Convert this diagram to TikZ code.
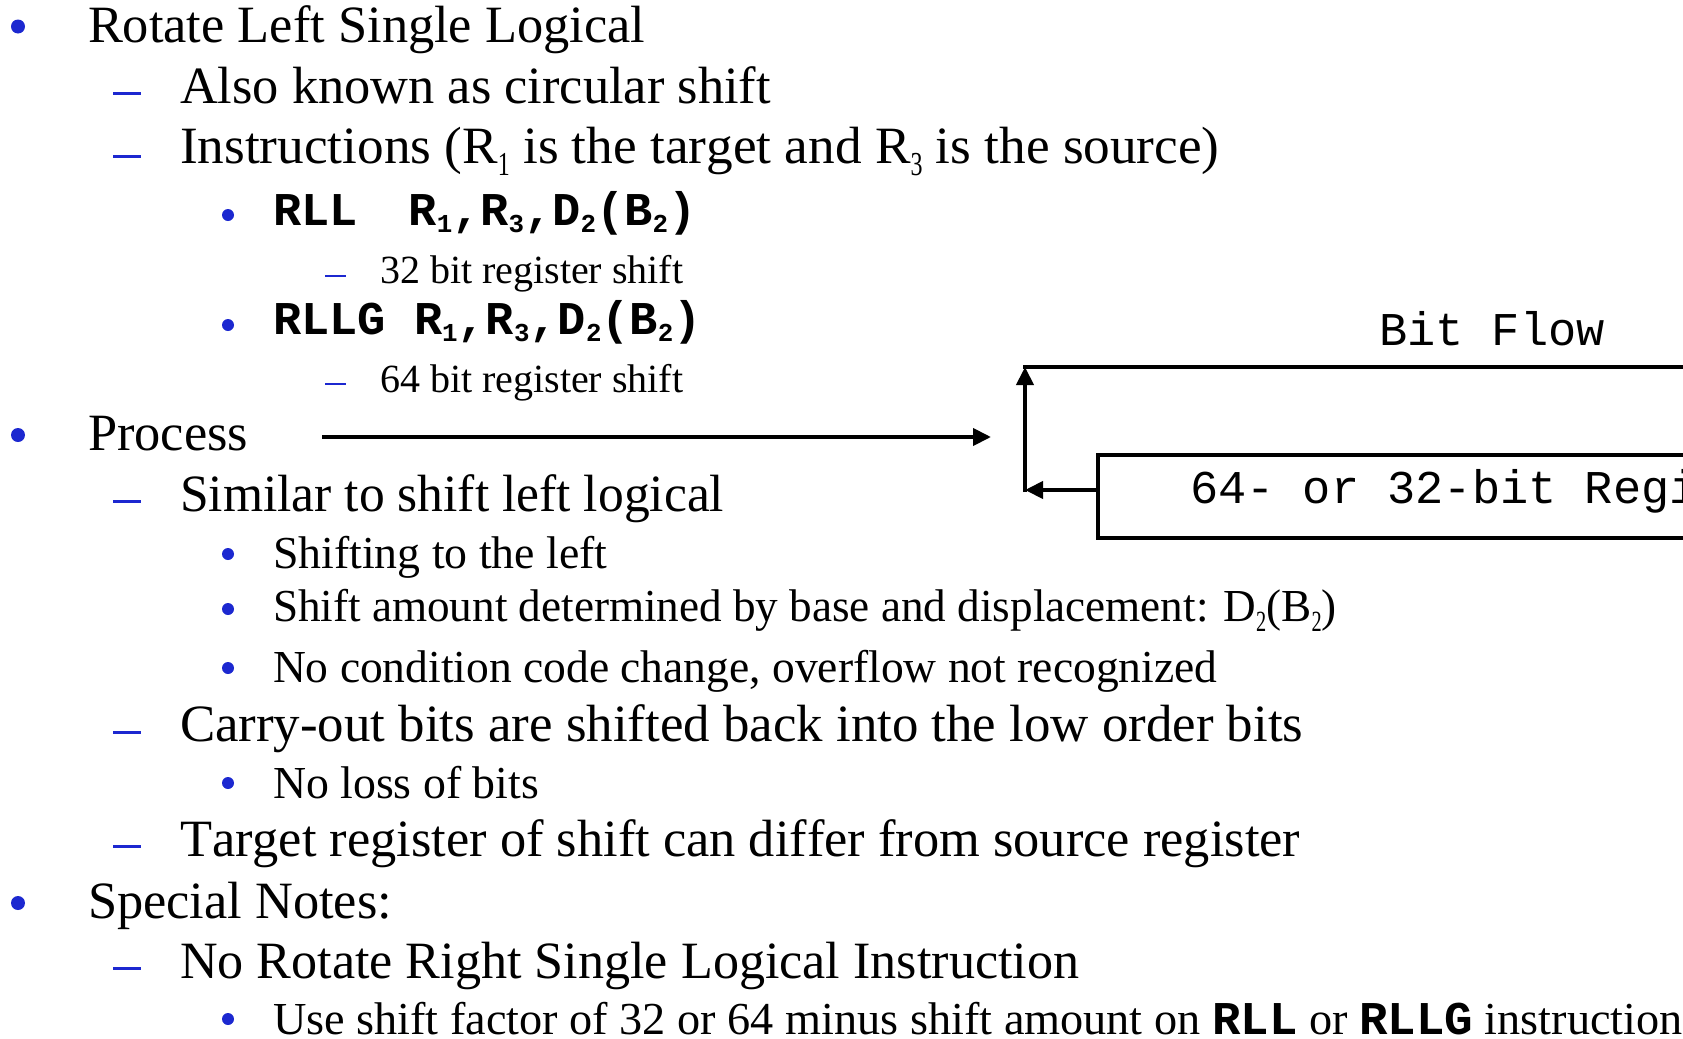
\documentclass[tikz,border=0pt]{standalone}
\usepackage{fontspec}
\setmainfont{Liberation Serif}[Kerning=Off]
\newfontfamily\codefont{Liberation Mono}
\usetikzlibrary{arrows.meta}
\definecolor{bulblue}{RGB}{28,40,208}
\newcommand\tsub[1]{\raisebox{-0.22em}{\scalebox{0.45}[0.64]{#1}}}
\newcommand\csub[1]{\raisebox{-0.17em}{\scalebox{0.55}{#1}}}
\newcommand\cd[1]{{\codefont\bfseries\fontsize{23.5pt}{26pt}\selectfont #1}}
\newcommand\sx[2]{\scalebox{#1}[1]{#2}}
\begin{document}
\begin{tikzpicture}[x=0.5pt,y=-0.5pt,
  txt/.style={anchor=base west, inner sep=0pt, outer sep=0pt},
  lone/.style={txt, font=\fontsize{26.2pt}{30pt}\selectfont},
  lthree/.style={txt, font=\fontsize{22.9pt}{26pt}\selectfont},
  lfour/.style={txt, font=\fontsize{20pt}{24pt}\selectfont},
  code/.style={txt, font=\codefont\bfseries\fontsize{23.5pt}{26pt}\selectfont},
  mono/.style={txt, font=\codefont\fontsize{23.5pt}{26pt}\selectfont},
  arr/.style={line width=2pt, -{Triangle[length=9pt,width=8.5pt]}},
  plain/.style={line width=2pt},
  regbox/.style={draw, line width=2pt, minimum width=500pt, minimum height=41.5pt, inner sep=0pt},
]
\useasboundingbox (0,0) rectangle (1683,1039);
\clip (0,0) rectangle (1683,1039);
% bullets level 1
\fill[bulblue] (18,26.5) circle[radius=3.5pt];
\fill[bulblue] (18,435) circle[radius=3.5pt];
\fill[bulblue] (18,903) circle[radius=3.5pt];
% bullets level 3
\foreach \yy in {215,325,554,609,668,783,1019}
  \fill[bulblue] (228,\yy) circle[radius=3pt];
% dashes level 2
\foreach \yy in {93.5,156,501.7,732,846.7,968}
  \fill[bulblue] (113,\yy-1.5) rectangle (141,\yy+1.5);
% dashes level 4
\foreach \yy in {276,384}
  \fill[bulblue] (325,\yy-1.2) rectangle (346,\yy+1.2);

\node[lone] (t1) at (88,42) {Rotate Left Single Logical};
\node[lone] (t2) at (180,103.5) {Also known as circular shift};
\node[lone] (t3) at (180,163.5) {\sx{1.016}{Instructions (R\tsub{1} is the target and R\tsub{3} is the source)}};
\node[code] (t4) at (273,225) {RLL\ \ \hspace{-2.7pt}R\csub{1},R\csub{3},D\csub{2}(B\csub{2})};
\node[lfour] (t5) at (380,283) {32 bit register shift};
\node[code] (t6) at (273,334) {RLLG R\csub{1},R\csub{3},D\csub{2}(B\csub{2})};
\node[lfour] (t7) at (380,392) {64 bit register shift};
\node[lone] (t8) at (88,450) {Process};
\node[lone] (t9) at (180,511.7) {\sx{0.984}{Similar to shift left logical}};
\node[lthree] (t10) at (273,568) {Shifting to the left};
\node[lthree] (t11) at (273,621.7) {\sx{0.986}{Shift amount determined by base and displacement: D\tsub{2}(B\tsub{2})}};
\node[lthree] (t12) at (273,682.7) {\sx{0.994}{No condition code change, overflow not recognized}};
\node[lone] (t13) at (180,741.7) {\sx{1.009}{Carry-out bits are shifted back into the low order bits}};
\node[lthree] (t14) at (273,798) {No loss of bits};
\node[lone] (t15) at (180,856.7) {Target register of shift can differ from source register};
\node[lone] (t16) at (88,918) {Special Notes:};
\node[lone] (t17) at (180,978) {\sx{0.995}{No Rotate Right Single Logical Instruction}};
\node[lthree] (t18) at (273,1034) {\sx{1.01}{Use shift factor of 32 or 64 minus shift amount on \cd{RLL} or \cd{RLLG} instruction}};

% diagram
\node[mono] (bitflow) at (1379,345) {Bit Flow};
\node[regbox, anchor=north west] (reg) at (1096,453) {};
\node[mono] (regtxt) at (1190,503) {64- or 32-bit Register};
\coordinate (pstart) at (322,437);
\coordinate (pend) at (991,437);
\coordinate (corner) at (1025,490);
\coordinate (topcorner) at (1025,367);
\coordinate (topright) at (1800,367);
\draw[arr] (pstart) -- (pend);
\draw[arr] (reg.west |- corner) -- (corner);
\draw[arr] ([yshift=-1pt]corner) -- (topcorner);
\draw[plain] ([xshift=-1pt]topcorner) -- (topright);
\end{tikzpicture}
\end{document}
